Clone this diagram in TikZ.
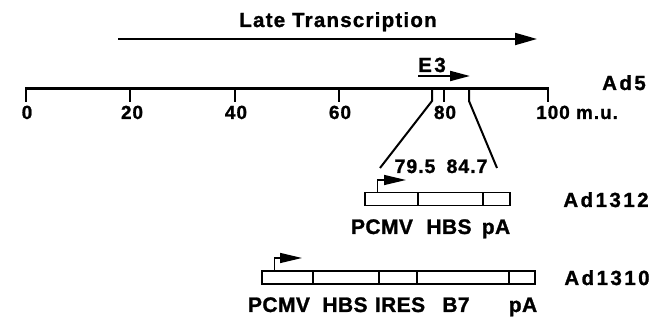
\documentclass[tikz,border=0pt]{standalone}
\usepackage{fontspec}
\setmainfont{Liberation Sans}
\newfontfamily\lblfont[LetterSpace=2,FakeBold=1.2]{Liberation Sans}
\newfontfamily\numfont[LetterSpace=5,FakeBold=1.2]{Liberation Sans}
\newfontfamily\namefont[LetterSpace=12,FakeBold=1.2]{Liberation Sans}
\newfontfamily\latefont[LetterSpace=6,FakeBold=1.2]{Liberation Sans}
\usetikzlibrary{arrows.meta}
\begin{document}
\begin{tikzpicture}[x=1pt,y=-1pt,
  lbl/.style={font=\lblfont\bfseries\fontsize{21}{22}\selectfont, inner sep=0pt, anchor=base},
  num/.style={font=\numfont\bfseries\fontsize{19}{20}\selectfont, inner sep=0pt, anchor=base},
  vname/.style={font=\namefont\bfseries\fontsize{20.5}{21}\selectfont, inner sep=0pt, anchor=base},
  seg/.style={draw, line width=1.5pt, minimum height=13pt, inner sep=0pt},
  bigtip/.style={line width=2pt, -{Triangle[length=22pt,width=12pt]}},
  smalltip/.style={line width=1.5pt, -{Triangle[length=22pt,width=10pt]}},
  tick/.style={line width=2pt}]
\useasboundingbox (0,0) rectangle (665,320);

% Late transcription
\node[inner sep=0pt, anchor=base, font=\latefont\bfseries\fontsize{20.5}{21}\selectfont] (late) at (338,27) {Late Transcription};
\coordinate (lt1) at (118,39);
\coordinate (lt2) at (537,39);
\draw[bigtip] (lt1) -- (lt2);

% E3
\node[vname] (e3) at (432,72) {E3};
\coordinate (e3a) at (418,76);
\coordinate (e3b) at (470,76);
\draw[line width=2pt, -{Triangle[length=20pt,width=10pt]}] (e3a) -- (e3b);

% Axis
\coordinate (t0) at (26,89);
\coordinate (t20) at (130.4,89);
\coordinate (t40) at (234.8,89);
\coordinate (t60) at (339.2,89);
\coordinate (t80) at (443.6,89);
\coordinate (t100) at (548,89);
\draw[line width=3pt] ([xshift=-1pt]t0) -- ([xshift=1pt]t100);
\foreach \i in {0,20,40,60,80,100}{
  \draw[tick] (t\i) -- ++(0,13);
}
\node[num] (l0) at (27,119) {0};
\node[num] (l20) at (132,119) {20};
\node[num] (l40) at (236,119) {40};
\node[num] (l60) at (340,119) {60};
\node[num] (l80) at (445,119) {80};
\node[num, anchor=base west] (l100) at (536,119) {100 m.u.};
\node[vname] (ad5) at (624,90) {Ad5};

% insertion region
\coordinate (ia) at (432,89);
\coordinate (ib) at (469,89);
\coordinate (ia2) at (432,101);
\coordinate (ib2) at (469,101);
\coordinate (ia3) at (380,168);
\coordinate (ib3) at (497,168);
\draw[tick] (ia) -- (ia2) -- (ia3);
\draw[tick] (ib) -- (ib2) -- (ib3);
\node[num, font=\numfont\bfseries\fontsize{19.5}{20}\selectfont] (n795) at (415,173) {79.5};
\node[num, font=\numfont\bfseries\fontsize{19.5}{20}\selectfont] (n847) at (467,173) {84.7};

% Ad1312
\node[seg, minimum width=53pt] (a1) at (391.5,199) {};
\node[seg, minimum width=65pt] (a2) at (450.5,199) {};
\node[seg, minimum width=27pt] (a3) at (496.5,199) {};
\coordinate (pe1) at (406,180);
\draw[smalltip] ([xshift=13pt]a1.north west) |- (pe1);
\node[lbl] (c1) at (382,234) {PCMV};
\node[lbl] (c2) at (449,234) {HBS};
\node[lbl] (c3) at (496,234) {pA};
\node[vname] (ad1312) at (606,207) {Ad1312};

% Ad1310
\node[seg, minimum width=51pt] (b1) at (287.5,277.5) {};
\node[seg, minimum width=66pt] (b2) at (346,277.5) {};
\node[seg, minimum width=38pt] (b3) at (398,277.5) {};
\node[seg, minimum width=92pt] (b4) at (463,277.5) {};
\node[seg, minimum width=26pt] (b5) at (522,277.5) {};
\coordinate (pe2) at (302,258);
\draw[smalltip] ([xshift=13pt]b1.north west) |- (pe2);
\node[lbl] (d1) at (279,312) {PCMV};
\node[lbl] (d2) at (345,312) {HBS};
\node[lbl] (d3) at (400,312) {IRES};
\node[lbl] (d4) at (456,312) {B7};
\node[lbl] (d5) at (523,312) {pA};
\node[vname] (ad1310) at (607,285) {Ad1310};
\end{tikzpicture}
\end{document}
